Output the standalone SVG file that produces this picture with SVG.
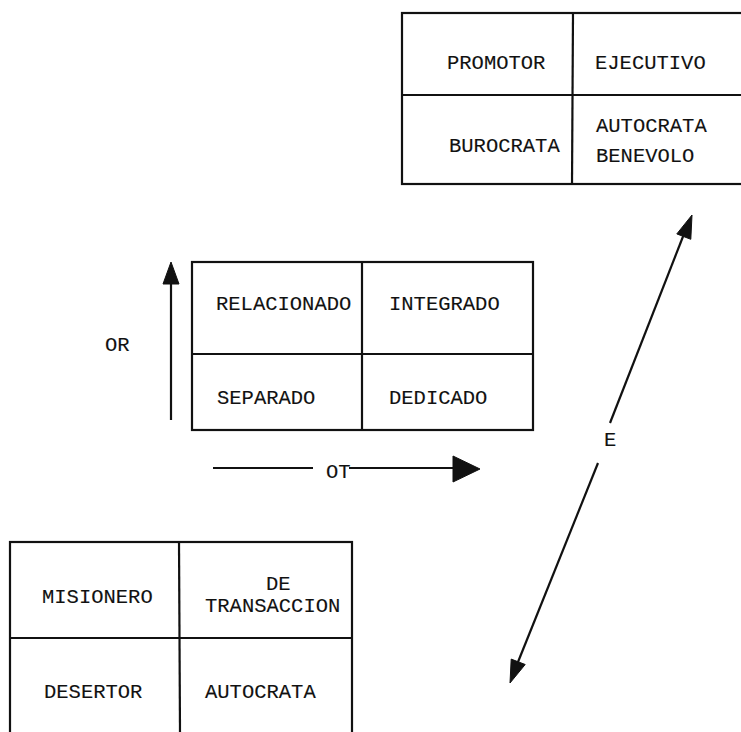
<svg xmlns="http://www.w3.org/2000/svg" width="741" height="732" viewBox="0 0 741 732">
  <style>
    .cell { fill: none; stroke: #111; stroke-width: 2.2; }
    .div { stroke: #111; stroke-width: 2.2; }
    .lbl { font-family: "Liberation Mono", "Courier New", monospace; font-size: 20.5px; fill: #111; stroke: #111; stroke-width: 0.12; }
    .axis { stroke: #111; stroke-width: 2.2; fill: none; }
    .head { fill: #111; stroke: #111; stroke-width: 1; stroke-linejoin: round; }
  </style>
  <rect width="741" height="732" fill="#fff"/>

  <!-- Top-right grid: promotor / ejecutivo / burocrata / autocrata benevolo -->
  <g id="grid-top">
    <rect class="cell" x="402" y="13" width="360" height="171"/>
    <line class="div" x1="402" y1="95" x2="741" y2="95"/>
    <line class="div" x1="573" y1="13" x2="572" y2="184"/>
    <text class="lbl" x="447" y="69">PROMOTOR</text>
    <text class="lbl" x="595" y="69">EJECUTIVO</text>
    <text class="lbl" x="449" y="152">BUROCRATA</text>
    <text class="lbl" x="596" y="132">AUTOCRATA</text>
    <text class="lbl" x="596" y="162">BENEVOLO</text>
  </g>

  <!-- Central grid -->
  <g id="grid-center">
    <rect class="cell" x="192" y="262" width="341" height="168"/>
    <line class="div" x1="192" y1="354" x2="533" y2="354"/>
    <line class="div" x1="362" y1="262" x2="362" y2="430"/>
    <text class="lbl" x="216" y="310">RELACIONADO</text>
    <text class="lbl" x="389" y="310">INTEGRADO</text>
    <text class="lbl" x="217" y="404">SEPARADO</text>
    <text class="lbl" x="389" y="404">DEDICADO</text>
  </g>

  <!-- Bottom-left grid -->
  <g id="grid-bottom">
    <rect class="cell" x="10" y="542" width="342" height="210"/>
    <line class="div" x1="10" y1="638" x2="352" y2="638"/>
    <line class="div" x1="179" y1="542" x2="180" y2="732"/>
    <text class="lbl" x="42" y="603">MISIONERO</text>
    <text class="lbl" x="266" y="590">DE</text>
    <text class="lbl" x="205" y="612">TRANSACCION</text>
    <text class="lbl" x="44" y="698">DESERTOR</text>
    <text class="lbl" x="205" y="698">AUTOCRATA</text>
  </g>

  <!-- Axis labels -->
  <g id="axis-labels">
    <text class="lbl" x="105" y="351">OR</text>
    <text class="lbl" x="326" y="478">OT</text>
    <text class="lbl" x="604" y="446">E</text>
  </g>

  <!-- Axes -->
  <g id="connectors">
    <!-- OR: vertical axis -->
    <line class="axis" x1="171" y1="420" x2="171" y2="280"/>
    <polygon class="head" points="171,262 163,284 179,284"/>
    <!-- OT: horizontal axis, interrupted by its label -->
    <line class="axis" x1="213" y1="468" x2="313" y2="468"/>
    <line class="axis" x1="349" y1="468" x2="456" y2="468"/>
    <polygon class="head" points="480,469 453,456 453,482"/>
    <!-- E: diagonal axis, interrupted by its label -->
    <line class="axis" x1="610" y1="423" x2="684" y2="234"/>
    <polygon class="head" points="692,215 676.8,233.9 690.8,239.3"/>
    <line class="axis" x1="598" y1="463" x2="518" y2="662"/>
    <polygon class="head" points="510,683 511.2,659.1 525.2,664.5"/>
  </g>
</svg>
